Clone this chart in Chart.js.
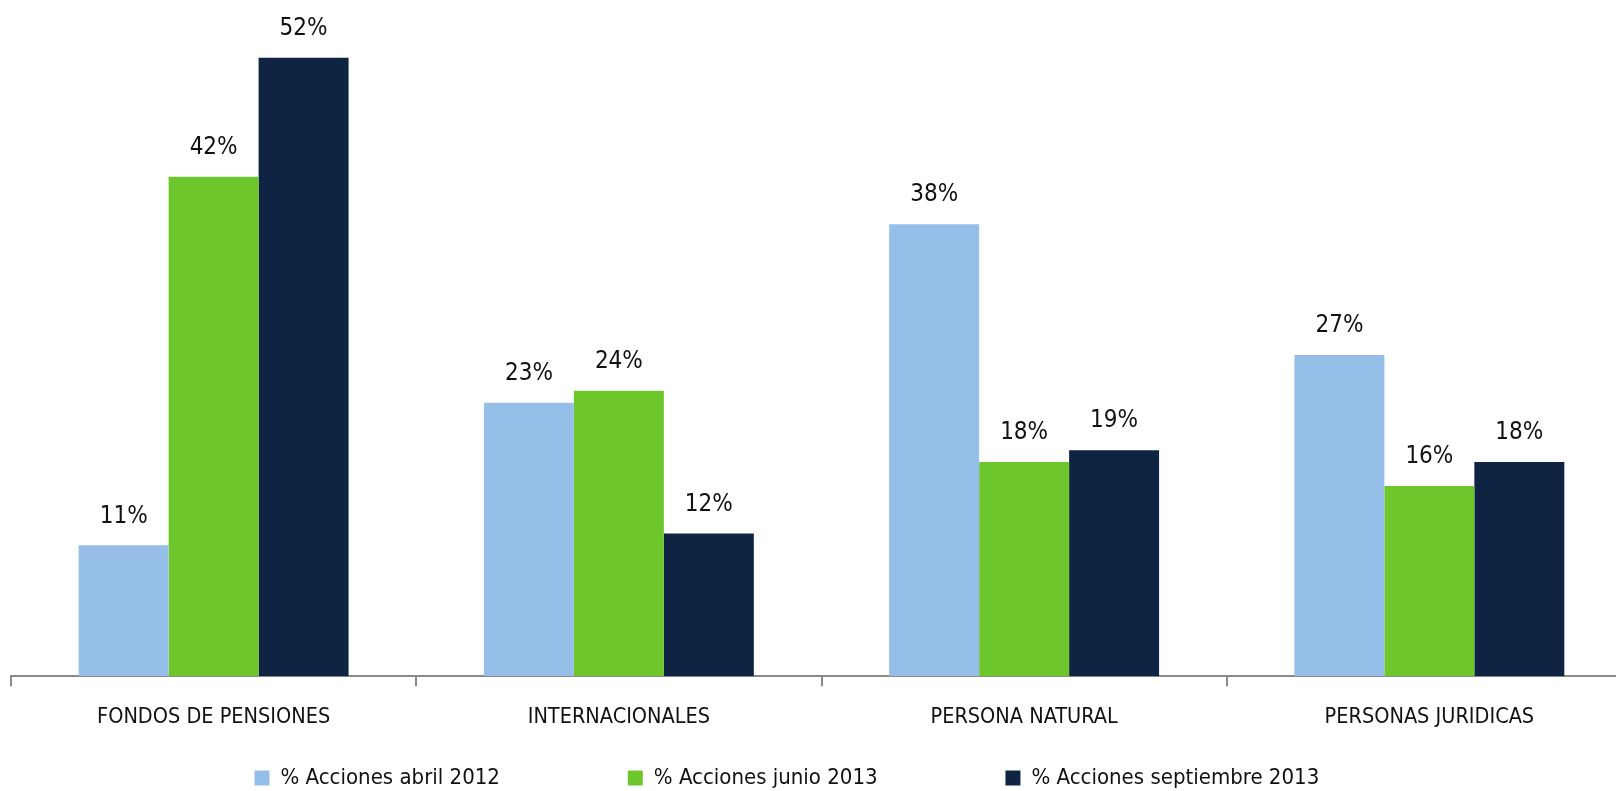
<!DOCTYPE html>
<html>
<head>
<meta charset="utf-8">
<script src="https://cdn.jsdelivr.net/npm/chart.js@4"></script>
<style>
  html, body { margin: 0; padding: 0; background: #fff; overflow: hidden; }
  #wrap { position: relative; width: 1640px; height: 799px; }
</style>
</head>
<body>
<div id="wrap"><canvas id="accionesChart"></canvas></div>
<script>
// Data
const categories = ['FONDOS DE PENSIONES', 'INTERNACIONALES', 'PERSONA NATURAL', 'PERSONAS JURIDICAS'];
const abril2012 = [11, 23, 38, 27];
const junio2013 = [42, 24, 18, 16];
const septiembre2013 = [52, 12, 19, 18];

const FONT = '"Liberation Sans Narrow", "DejaVu Sans Condensed", "Roboto", sans-serif';

// Draw the value labels above each bar
const valueLabels = {
    id: 'valueLabels',
    afterDatasetsDraw(chart) {
        const ctx = chart.ctx;
        ctx.save();
        ctx.font = '24px ' + FONT;
        ctx.fillStyle = '#111';
        ctx.textAlign = 'center';
        ctx.textBaseline = 'bottom';
        chart.data.datasets.forEach((ds, i) => {
            chart.getDatasetMeta(i).data.forEach((bar, j) => {
                ctx.fillText(ds.data[j] + '%', bar.x, bar.y - 17);
            });
        });
        ctx.restore();
    }
};

function initializeChart() {
    const ctx = document.getElementById('accionesChart');
    new Chart(ctx, {
        type: 'bar',
        data: {
            labels: categories,
            datasets: [
                { label: '% Acciones abril 2012', data: abril2012, backgroundColor: '#95bfe8' },
                { label: '% Acciones junio 2013', data: junio2013, backgroundColor: '#6dc72c' },
                { label: '% Acciones septiembre 2013', data: septiembre2013, backgroundColor: '#0f2342' }
            ]
        },
        options: {
            responsive: true,
            maintainAspectRatio: false,
            animation: false,
            layout: { padding: { top: 22, left: 11, right: 8, bottom: 0 } },
            datasets: { bar: { categoryPercentage: 0.666, barPercentage: 1.0 } },
            scales: {
                x: {
                    grid: { drawOnChartArea: false, color: '#8a8a8a', tickLength: 10, lineWidth: 2 },
                    border: { color: '#8a8a8a', width: 2 },
                    ticks: { color: '#111', font: { family: FONT, size: 21.5 }, padding: 18 }
                },
                y: {
                    display: false,
                    min: 0,
                    max: 55
                }
            },
            plugins: {
                legend: {
                    position: 'bottom',
                    labels: {
                        color: '#111',
                        font: { family: FONT, size: 22 },
                        boxWidth: 15,
                        boxHeight: 15,
                        padding: 19,
                        // widen the gaps between items (and nudge the row left) without adding vertical space
                        generateLabels(chart) {
                            const items = Chart.defaults.plugins.legend.labels.generateLabels(chart);
                            items.forEach((it, i) => {
                                if (i < items.length - 1) it.text += '\u2003\u2003\u2003\u2003\u2003\u2002';
                                else it.text += '\u2003\u2003\u2003\u2002';
                            });
                            return items;
                        }
                    }
                },
                tooltip: { enabled: false }
            }
        },
        plugins: [valueLabels]
    });
}

document.addEventListener('DOMContentLoaded', initializeChart);
</script>
</body>
</html>
